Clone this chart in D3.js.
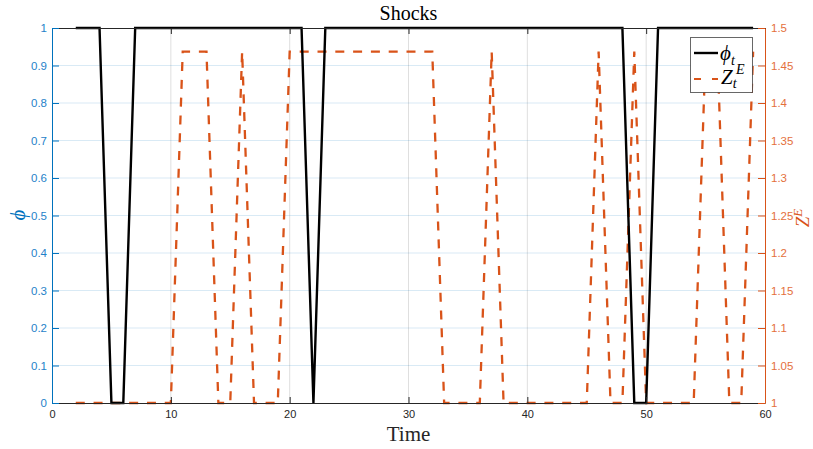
<!DOCTYPE html>
<html><head><meta charset="utf-8">
<script src="https://cdn.jsdelivr.net/npm/d3@7"></script>
<style>
html,body{margin:0;padding:0;background:#fff;}
svg{display:block;}
</style></head>
<body>
<svg id="chart" width="813" height="449"></svg>
<script>
// ---- data ----
const time = [2,3,4,5,6,7,8,9,10,11,12,13,14,15,16,17,18,19,20,21,22,23,24,25,26,27,28,29,30,31,32,33,34,35,36,37,38,39,40,41,42,43,44,45,46,47,48,49,50,51,52,53,54,55,56,57,58,59];
const phi  = [1,1,1,0,0,1,1,1,1,1,1,1,1,1,1,1,1,1,1,1,0,1,1,1,1,1,1,1,1,1,1,1,1,1,1,1,1,1,1,1,1,1,1,1,1,1,1,0,0,1,1,1,1,1,1,1,1,1];
const H = 1.4685;
const zE   = [1,1,1,1,1,1,1,1,1,H,H,H,1,1,H,1,1,1,H,H,H,H,H,H,H,H,H,H,H,H,H,1,1,1,1,H,1,1,1,1,1,1,1,1,H,1,1,H,1,1,1,1,1,H,H,1,1,H];
const xTicks = [0,10,20,30,40,50,60];
const yLeftTicks = [0,0.1,0.2,0.3,0.4,0.5,0.6,0.7,0.8,0.9,1];
const yRightTicks = [1,1.05,1.1,1.15,1.2,1.25,1.3,1.35,1.4,1.45,1.5];

const blue = "#0072BD", orange = "#D95319", dark = "#262626";
const L = 52, R = 765, T = 28, B = 403;

const svg = d3.select("#chart");
const x = d3.scaleLinear().domain([0,60]).range([L,R]);
const yL = d3.scaleLinear().domain([0,1]).range([B,T]);
const yR = d3.scaleLinear().domain([1,1.5]).range([B,T]);

// grid
const g = svg.append("g");
g.selectAll("line.vg").data(xTicks.slice(1,-1)).enter().append("line")
  .attr("x1",d=>x(d)).attr("x2",d=>x(d)).attr("y1",T).attr("y2",B)
  .attr("stroke","rgba(38,38,38,0.15)").attr("stroke-width",1);
g.selectAll("line.hg").data(yLeftTicks.slice(1,-1)).enter().append("line")
  .attr("x1",L).attr("x2",R).attr("y1",d=>yL(d)).attr("y2",d=>yL(d))
  .attr("stroke","rgba(0,114,189,0.15)").attr("stroke-width",1);

// series
const lineZ = d3.line().x((d,i)=>x(time[i])).y(d=>yR(d));
svg.append("path").datum(zE).attr("d",lineZ).attr("fill","none")
  .attr("stroke",orange).attr("stroke-width",2.3).attr("stroke-dasharray","9,8.8");
const lineP = d3.line().x((d,i)=>x(time[i])).y(d=>yL(d));
svg.append("path").datum(phi).attr("d",lineP).attr("fill","none")
  .attr("stroke","#000").attr("stroke-width",2.4).attr("stroke-linejoin","miter");

// axes
const xAxisB = d3.axisBottom(x).tickValues(xTicks).tickSizeInner(-6).tickSizeOuter(0).tickPadding(7).tickFormat(d3.format("d"));
const gxb = svg.append("g").attr("transform",`translate(0,${B})`).call(xAxisB);
gxb.select(".domain").attr("stroke",dark);
gxb.selectAll(".tick line").attr("stroke",dark);
gxb.selectAll("text").attr("fill",dark).attr("font-family","Liberation Sans, Arial, sans-serif").attr("font-size",11);

const xAxisT = d3.axisTop(x).tickValues(xTicks).tickSizeInner(-6).tickSizeOuter(0).tickFormat("");
const gxt = svg.append("g").attr("transform",`translate(0,${T})`).call(xAxisT);
gxt.select(".domain").attr("stroke",dark);
gxt.selectAll(".tick line").attr("stroke",dark);

const yAxisL = d3.axisLeft(yL).tickValues(yLeftTicks).tickSizeInner(-7).tickSizeOuter(0).tickPadding(5).tickFormat(d=>d3.format("")(+d.toFixed(2)));
const gyl = svg.append("g").attr("transform",`translate(${L},0)`).call(yAxisL);
gyl.select(".domain").attr("stroke",blue);
gyl.selectAll(".tick line").attr("stroke",blue);
gyl.selectAll("text").attr("fill","#1f82c9").attr("font-family","Liberation Sans, Arial, sans-serif").attr("font-size",11.5);

const yAxisR = d3.axisRight(yR).tickValues(yRightTicks).tickSizeInner(-7).tickSizeOuter(0).tickPadding(6).tickFormat(d=>d3.format("")(+d.toFixed(2)));
const gyr = svg.append("g").attr("transform",`translate(${R},0)`).call(yAxisR);
gyr.select(".domain").attr("stroke",orange);
gyr.selectAll(".tick line").attr("stroke",orange);
gyr.selectAll("text").attr("fill","#e4703c").attr("font-family","Liberation Sans, Arial, sans-serif").attr("font-size",11.5);

// labels
const serif = "Liberation Serif, Times New Roman, serif";
svg.append("text").attr("x",(L+R)/2).attr("y",20).attr("text-anchor","middle")
  .attr("font-family",serif).attr("font-size",20).attr("fill","#000").text("Shocks");
svg.append("text").attr("x",(L+R)/2).attr("y",441).attr("text-anchor","middle")
  .attr("font-family",serif).attr("font-size",21).attr("fill",dark).text("Time");
svg.append("text").attr("transform","translate(25,215) rotate(-90)").attr("text-anchor","middle")
  .attr("font-family",serif).attr("font-style","italic").attr("font-size",21).attr("fill",blue).text("ϕ");
const zl = svg.append("text").attr("transform","translate(809,218) rotate(-90)").attr("text-anchor","middle")
  .attr("font-family",serif).attr("font-style","italic").attr("font-size",19).attr("fill",orange);
zl.append("tspan").text("Z");
zl.append("tspan").attr("dy",-7).attr("font-size",13).text("E");

// legend
const lg = svg.append("g");
lg.append("rect").attr("x",690.5).attr("y",37.5).attr("width",62).attr("height",55)
  .attr("fill","#fff").attr("stroke","#262626").attr("stroke-opacity",0.7).attr("stroke-width",1);
lg.append("line").attr("x1",694).attr("x2",718).attr("y1",53).attr("y2",53).attr("stroke","#000").attr("stroke-width",2.4);
lg.append("line").attr("x1",694).attr("x2",718).attr("y1",79).attr("y2",79).attr("stroke",orange).attr("stroke-width",2.2).attr("stroke-dasharray","7,11");
const t1 = lg.append("text").attr("x",720).attr("y",60).attr("font-family",serif).attr("font-style","italic").attr("font-size",21).attr("fill","#000");
t1.append("tspan").text("ϕ");
t1.append("tspan").attr("dy",5).attr("font-size",14).text("t");
const t2 = lg.append("text").attr("x",721).attr("y",84).attr("font-family",serif).attr("font-style","italic").attr("font-size",21).attr("fill","#000");
t2.append("tspan").text("Z");
t2.append("tspan").attr("dy",4).attr("font-size",14).text("t");
t2.append("tspan").attr("x",736).attr("dy",-14).attr("font-size",14).text("E");
</script>
</body></html>
